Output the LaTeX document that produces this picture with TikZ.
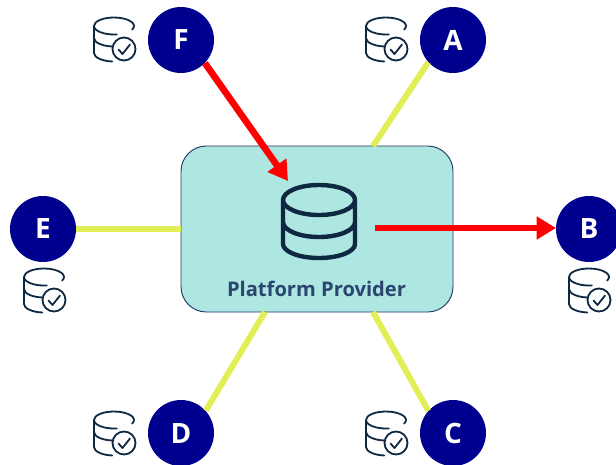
\documentclass[tikz,border=0pt]{standalone}
\usepackage{fontspec}
\setmainfont{Carlito}
\newfontfamily\labelfont{Open Sans}
\usetikzlibrary{arrows.meta}
\definecolor{hub}{HTML}{AEE6E1}
\definecolor{hubedge}{HTML}{1F3864}
\definecolor{peer}{HTML}{00008F}
\definecolor{linky}{HTML}{E2EE55}
\definecolor{icon}{HTML}{0E2841}
\definecolor{hubtext}{HTML}{2A4570}
\tikzset{
  x=0.75pt,y=-0.75pt,
  peernode/.style={circle,fill=peer,minimum size=49.5pt,inner sep=0pt,text=white,font=\labelfont\fontsize{21}{21}\selectfont\bfseries},
  hubbox/.style={draw=hubedge,line width=0.7pt,fill=hub,rounded corners=19pt,minimum width=204pt,minimum height=124.5pt,inner sep=0pt},
  peerlink/.style={draw=linky,line width=4.5pt},
  flow/.style={draw=red,line width=5pt,-{Triangle[length=14.5pt,width=16.5pt]}},
  dbicon/.pic={
    \draw[icon,line width=1.35pt,line cap=round,line join=round]
      (0,9) arc[start angle=180,end angle=385,x radius=20,y radius=8.5]
      (0,9) arc[start angle=180,end angle=82,x radius=20,y radius=8.5]
      (0,9) -- (0,36)
      (0,21) arc[start angle=180,end angle=95,x radius=20,y radius=8.5]
      (0,36) arc[start angle=180,end angle=95,x radius=20,y radius=8.5]
      (30,32) circle[radius=11.5]
      (24.5,32.5) -- (28.5,37) -- (36,27.5);
  },
  bigdb/.pic={
    \draw[icon,line width=3.3pt,line cap=round,line join=round]
      (0,0) ellipse[x radius=36,y radius=15]
      (-36,0) -- (-36,44) (36,0) -- (36,44)
      (-36,22) arc[start angle=180,end angle=0,x radius=36,y radius=15]
      (-36,44) arc[start angle=180,end angle=0,x radius=36,y radius=14];
  }
}
\begin{document}
\begin{tikzpicture}
\useasboundingbox (0,0) rectangle (616,464);
\node[hubbox] (hub) at (317,229) {};
\node[peernode] (A) at (453,40) {A};
\node[peernode] (B) at (589,229) {B};
\node[peernode] (C) at (453,433) {C};
\node[peernode] (D) at (181,433) {D};
\node[peernode] (E) at (43,229) {E};
\node[peernode] (F) at (181,40) {F};
\node[text=hubtext,font=\labelfont\fontsize{15.1}{16}\selectfont\bfseries] (label) at (316.5,289) {Platform Provider};
\pic (bigicon) at (319,200) {bigdb};
\pic (iconF) at (94,17) {dbicon};
\pic (iconA) at (366,17) {dbicon};
\pic (iconE) at (24,268) {dbicon};
\pic (iconB) at (569,268) {dbicon};
\pic (iconD) at (94,411) {dbicon};
\pic (iconC) at (366,411) {dbicon};
\coordinate (pa) at (373,146);
\coordinate (pc) at (373,312);
\coordinate (pd) at (265,312);
\coordinate (pe) at (181,229);
\coordinate (fin) at (288,181);
\coordinate (bout) at (375,228);
\coordinate (bin) at (556,228);
\path[peerlink] (A.222) -- (pa);
\path[peerlink] (C.138) -- (pc);
\path[peerlink] (D.42) -- (pd);
\path[peerlink] (E) -- (pe);
\path[flow] (F.-44) -- (fin);
\path[flow] (bout) -- (bin);
\end{tikzpicture}
\end{document}
